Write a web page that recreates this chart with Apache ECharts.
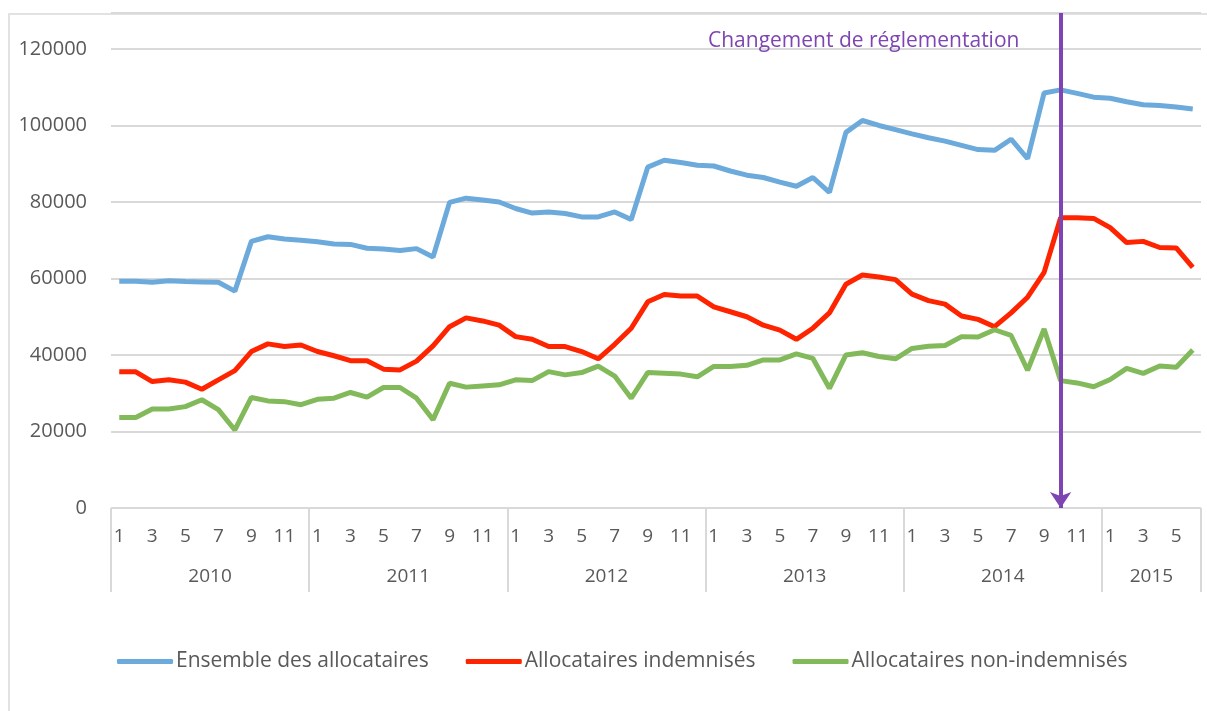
<!DOCTYPE html>
<html>
<head>
<meta charset="utf-8">
<script src="https://cdn.jsdelivr.net/npm/echarts@6/dist/echarts.min.js"></script>
<style>
  html, body { margin: 0; padding: 0; background: #fff; }
  #wrap { position: relative; width: 1207px; height: 711px; overflow: hidden; }
  .edge { position: absolute; background: #e2e2e2; }
  #edge-top { left: 8px; top: 13px; width: 1199px; height: 2px; }
  #edge-left { left: 8px; top: 13px; width: 2px; height: 698px; }
  #chart { position: absolute; left: 0; top: 0; width: 1207px; height: 711px; }
</style>
</head>
<body>
<div id="wrap">
  <div class="edge" id="edge-top"></div>
  <div class="edge" id="edge-left"></div>
  <div id="chart"></div>
</div>
<script>
// tick labels
const years = ['2010', '2011', '2012', '2013', '2014', '2015'];
const monthsPerYear = [12, 12, 12, 12, 12, 6];

// series
const ensemble = [
  59300, 59300, 59000, 59400, 59200, 59100, 59000, 56700, 69700, 70900, 70300, 70000,
  69600, 69000, 68900, 67900, 67700, 67300, 67800, 65600, 79900, 81000, 80500, 80000,
  78300, 77100, 77400, 77000, 76100, 76100, 77400, 75400, 89100, 90900, 90300, 89600,
  89400, 88100, 87000, 86400, 85200, 84100, 86400, 82500, 98200, 101300, 100000, 98900,
  97800, 96800, 95900, 94800, 93700, 93500, 96400, 91300, 108500, 109300, 108400, 107400,
  107100, 106200, 105400, 105200, 104800, 104300
];
const indemnises = [
  35650, 35600, 33050, 33500, 32900, 31050, 33500, 35900, 40900, 42900, 42200, 42600,
  40900, 39800, 38500, 38500, 36300, 36100, 38400, 42400, 47400, 49700, 48900, 47800,
  44800, 44100, 42200, 42200, 40900, 39000, 42800, 47000, 53900, 55800, 55400, 55400,
  52600, 51300, 50000, 47800, 46500, 44100, 47000, 51000, 58500, 60900, 60400, 59700,
  55900, 54200, 53300, 50200, 49300, 47400, 51000, 55100, 61600, 75900, 75900, 75700,
  73300, 69400, 69700, 68100, 68000, 62900
];
const nonIndemnises = [
  23650, 23650, 25900, 25900, 26500, 28300, 25700, 20400, 28900, 28000, 27800, 27000,
  28400, 28700, 30200, 29000, 31500, 31500, 28700, 23100, 32600, 31600, 31900, 32200,
  33500, 33300, 35650, 34800, 35400, 37100, 34500, 28700, 35400, 35200, 35000, 34300,
  37000, 37000, 37300, 38700, 38700, 40300, 39100, 31300, 40000, 40600, 39600, 39000,
  41700, 42300, 42500, 44800, 44700, 46600, 45100, 36000, 46800, 33300, 32700, 31700,
  33600, 36500, 35200, 37100, 36800, 41300
];
const changeIndex = 57; // octobre 2014

// month categories
const months = [];
monthsPerYear.forEach(n => { for (let m = 1; m <= n; m++) months.push(String(m)); });

// half-month grid for the year row: boundaries and centres
const halfYear = [];
const yearTicks = {};
const yearLabels = {};
let pos = 0;
years.forEach((y, k) => {
  const span = monthsPerYear[k] * 2;
  for (let j = 0; j < span; j++) halfYear.push(y);
  yearTicks[pos] = true;
  yearLabels[pos + span / 2] = true;
  pos += span;
});
halfYear.push('');
yearTicks[pos] = true;

const txt = '#595959';
const gridCol = '#d9d9d9';
const font = '"Open Sans", sans-serif';
// axis top runs up to the chart frame, above the last labelled tick
const yTop = 129400;

const chart = echarts.init(document.getElementById('chart'));
const option = {
  animation: false,
  textStyle: { fontFamily: font },
  title: {
    text: 'Changement de réglementation',
    left: 708, top: 31, padding: 0,
    textStyle: { color: '#7e45b2', fontSize: 21, fontWeight: 'normal', fontFamily: font }
  },
  legend: {
    left: 117, top: 651, padding: 0,
    itemWidth: 56, itemHeight: 5, itemGap: 37,
    icon: 'roundRect',
    textStyle: { color: txt, fontSize: 21, fontFamily: font, padding: [0, 0, 0, -2] },
    data: ['Ensemble des allocataires', 'Allocataires indemnisés', 'Allocataires non-indemnisés']
  },
  grid: { left: 111, right: 6, top: 13, bottom: 203 },
  xAxis: [
    {
      type: 'category', data: months, boundaryGap: true,
      axisLine: { lineStyle: { color: gridCol, width: 1 } },
      axisTick: { show: false },
      axisLabel: { interval: 1, color: txt, fontSize: 19, margin: 19, fontFamily: font }
    },
    {
      type: 'category', data: halfYear, boundaryGap: false, position: 'bottom',
      axisLine: { show: false },
      axisTick: {
        show: true, length: 84, interval: (i) => !!yearTicks[i],
        lineStyle: { color: gridCol, width: 2 }
      },
      axisLabel: {
        interval: (i) => !!yearLabels[i], color: txt, fontSize: 19, margin: 59, fontFamily: font
      }
    }
  ],
  yAxis: {
    type: 'value', min: 0, max: yTop, interval: 20000,
    axisLine: { show: false }, axisTick: { show: false },
    axisLabel: {
      color: txt, fontSize: 20, margin: 24, fontFamily: font,
      formatter: (v) => (v % 20000 === 0 ? String(v) : '')
    },
    splitLine: { lineStyle: { color: gridCol, width: 2 } }
  },
  series: [
    {
      name: 'Ensemble des allocataires', type: 'line', data: ensemble, symbol: 'none',
      lineStyle: { width: 5, color: '#6caadc' }, itemStyle: { color: '#6caadc' },
      markLine: {
        silent: true,
        symbol: ['none', 'arrow'],
        symbolSize: [16, 16],
        label: { show: false },
        lineStyle: { color: '#7e45b2', width: 4, type: 'solid' },
        data: [[{ coord: [changeIndex, yTop] }, { coord: [changeIndex, 0] }]]
      }
    },
    {
      name: 'Allocataires indemnisés', type: 'line', data: indemnises, symbol: 'none',
      lineStyle: { width: 5, color: '#ff2400' }, itemStyle: { color: '#ff2400' }
    },
    {
      name: 'Allocataires non-indemnisés', type: 'line', data: nonIndemnises, symbol: 'none',
      lineStyle: { width: 5, color: '#82b95a' }, itemStyle: { color: '#82b95a' }
    }
  ]
};
chart.setOption(option);
</script>
</body>
</html>
